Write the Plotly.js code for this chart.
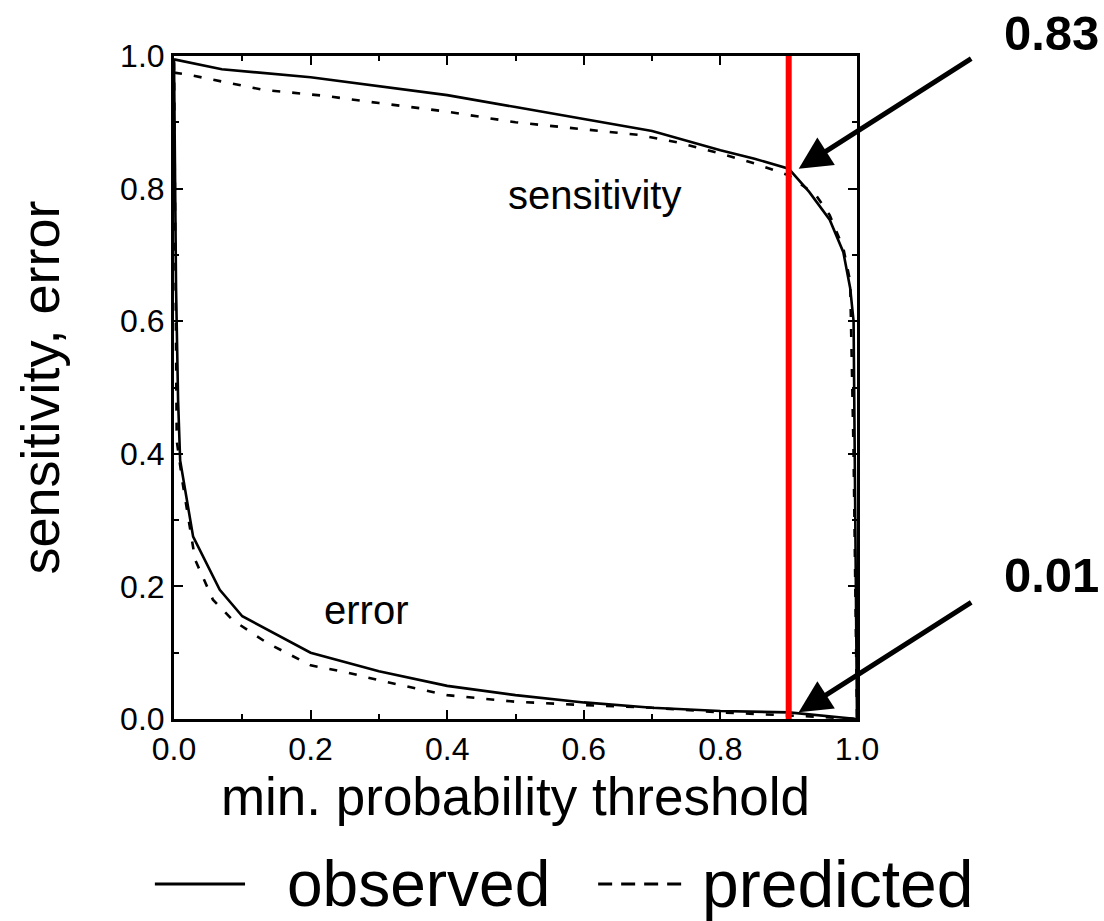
<!DOCTYPE html>
<html>
<head>
<meta charset="utf-8">
<script src="https://cdn.plot.ly/plotly-3.0.1.min.js"></script>
<style>
  html, body { margin: 0; padding: 0; background: #ffffff; }
  #chart { width: 1104px; height: 921px; }
</style>
</head>
<body>
<div id="chart"></div>
<script>
// Sensitivity curves: observed and predicted, versus the minimum probability threshold
const sensObsX  = [0, 0.07, 0.2, 0.3, 0.4, 0.5, 0.6, 0.7, 0.8, 0.85, 0.9, 0.93, 0.96, 0.98, 0.99, 0.995, 1.0];
const sensObsY  = [0.995, 0.98, 0.968, 0.955, 0.941, 0.923, 0.905, 0.887, 0.858, 0.845, 0.83, 0.795, 0.753, 0.704, 0.65, 0.6, 0.0];
const sensPredX = [0, 0.02, 0.13, 0.22, 0.3, 0.4, 0.5, 0.6, 0.68, 0.74, 0.8, 0.85, 0.9, 0.94, 0.96, 0.98, 0.99, 0.995, 1.0];
const sensPredY = [0.975, 0.972, 0.949, 0.94, 0.929, 0.916, 0.9, 0.89, 0.881, 0.869, 0.853, 0.838, 0.82, 0.79, 0.76, 0.71, 0.66, 0.4, 0.0];

// Error curves: observed and predicted
const errObsX  = [0, 0.003, 0.006, 0.009, 0.028, 0.067, 0.1, 0.2, 0.3, 0.4, 0.5, 0.6, 0.7, 0.8, 0.9, 0.95, 1.0];
const errObsY  = [0.995, 0.65, 0.48, 0.39, 0.275, 0.195, 0.155, 0.1, 0.072, 0.05, 0.036, 0.025, 0.017, 0.012, 0.01, 0.005, 0.0];
const errPredX = [0, 0.002, 0.004, 0.012, 0.019, 0.031, 0.057, 0.086, 0.136, 0.2, 0.25, 0.31, 0.4, 0.5, 0.6, 0.7, 0.8, 0.9, 0.95, 1.0];
const errPredY = [0.99, 0.7, 0.42, 0.36, 0.315, 0.24, 0.18, 0.149, 0.115, 0.081, 0.071, 0.056, 0.036, 0.026, 0.021, 0.017, 0.01, 0.006, 0.003, 0.0];

// Chosen threshold and the values read at it
const threshold = 0.9;
const sensAtThreshold = 0.83;
const errAtThreshold = 0.01;

const tickVals = [0, 0.2, 0.4, 0.6, 0.8, 1.0];
const tickText = ['0.0', '0.2', '0.4', '0.6', '0.8', '1.0'];
const seriesNames = ['observed', 'predicted'];

const FONT = 'Arial, "Liberation Sans", sans-serif';
const solid = { color: '#000000', width: 2.6, dash: 'solid' };
const dashed = { color: '#000000', width: 2.6, dash: '8px,12px' };

const traces = [
  { x: sensObsX,  y: sensObsY,  mode: 'lines', line: solid,  name: seriesNames[0], showlegend: false },
  { x: sensPredX, y: sensPredY, mode: 'lines', line: dashed, name: seriesNames[1], showlegend: false },
  { x: errObsX,   y: errObsY,   mode: 'lines', line: solid,  name: seriesNames[0], showlegend: false },
  { x: errPredX,  y: errPredY,  mode: 'lines', line: dashed, name: seriesNames[1], showlegend: false }
];

const axisCommon = {
  range: [0, 1],
  tickvals: tickVals,
  ticktext: tickText,
  ticks: 'inside',
  ticklen: 9,
  tickwidth: 2,
  tickcolor: '#000000',
  minor: { dtick: 0.1, ticks: 'inside', ticklen: 5, tickwidth: 2, tickcolor: '#000000', showgrid: false },
  showline: true,
  linecolor: '#000000',
  linewidth: 3,
  mirror: 'ticks',
  showgrid: false,
  zeroline: false,
  tickfont: { family: FONT, size: 32, color: '#000000' },
  fixedrange: true
};

function arrowTo(y) {
  return {
    x: threshold, y: y, xref: 'x', yref: 'y',
    text: '', showarrow: true,
    ax: 174, ay: -111, axref: 'pixel', ayref: 'pixel',
    xshift: 10,
    arrowhead: 2, arrowsize: 1.3, arrowwidth: 5, arrowcolor: '#000000'
  };
}

function boldLabel(value, y) {
  return {
    x: 1.2855, y: y, xref: 'paper', yref: 'paper', xanchor: 'center', yanchor: 'middle',
    text: '<b>' + value.toFixed(2) + '</b>', showarrow: false,
    font: { family: FONT, size: 49, color: '#000000' }
  };
}

const layout = {
  width: 1104,
  height: 921,
  margin: { l: 174, r: 247, t: 56, b: 202 },
  paper_bgcolor: '#ffffff',
  plot_bgcolor: '#ffffff',
  showlegend: false,
  font: { family: FONT, color: '#000000' },
  xaxis: Object.assign({}, axisCommon, {
    title: { text: 'min. probability threshold', font: { family: FONT, size: 53, color: '#000000' }, standoff: 8 },
    automargin: false
  }),
  yaxis: Object.assign({}, axisCommon, {
    title: { text: 'sensitivity, error', font: { family: FONT, size: 54, color: '#000000' }, standoff: 44 },
    automargin: false
  }),
  shapes: [
    // threshold marker
    { type: 'line', xref: 'x', yref: 'paper', x0: threshold, x1: threshold, y0: 0, y1: 1,
      line: { color: '#ff0000', width: 6 } },
    // legend keys
    { type: 'line', xref: 'paper', yref: 'paper', x0: -0.028, x1: 0.104, y0: -0.249, y1: -0.249,
      line: { color: '#000000', width: 3 } },
    { type: 'line', xref: 'paper', yref: 'paper', x0: 0.621, x1: 0.755, y0: -0.249, y1: -0.249,
      line: { color: '#000000', width: 3, dash: '14px,9px' } }
  ],
  annotations: [
    { x: 0.615, y: 0.79, xref: 'x', yref: 'y', text: 'sensitivity', showarrow: false,
      font: { family: FONT, size: 40, color: '#000000' } },
    { x: 0.281, y: 0.164, xref: 'x', yref: 'y', text: 'error', showarrow: false,
      font: { family: FONT, size: 40, color: '#000000' } },
    arrowTo(sensAtThreshold),
    arrowTo(errAtThreshold),
    boldLabel(sensAtThreshold, 1.035),
    boldLabel(errAtThreshold, 0.217),
    { x: 0.162, y: -0.249, xref: 'paper', yref: 'paper', xanchor: 'left', yanchor: 'middle',
      text: seriesNames[0], showarrow: false, font: { family: FONT, size: 64, color: '#000000' } },
    { x: 0.770, y: -0.249, xref: 'paper', yref: 'paper', xanchor: 'left', yanchor: 'middle',
      text: seriesNames[1], showarrow: false, font: { family: FONT, size: 66, color: '#000000' } }
  ]
};

Plotly.newPlot('chart', traces, layout, { staticPlot: true, displayModeBar: false });
</script>
</body>
</html>
